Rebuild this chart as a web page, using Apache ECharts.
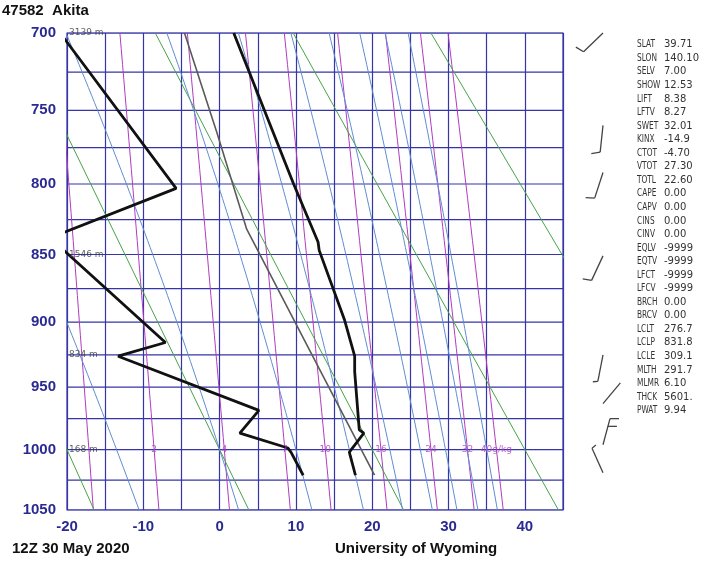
<!DOCTYPE html>
<html><head><meta charset="utf-8">
<script src="https://cdn.jsdelivr.net/npm/echarts@6/dist/echarts.min.js"></script>
<style>html,body{margin:0;padding:0;background:#fff}#c{width:709px;height:564px}</style>
</head><body><div id="c"></div>
<script>
// ---------- data ----------
const stationTitle = '47582  Akita';
const timeTitle = '12Z 30 May 2020';
const sourceTitle = 'University of Wyoming';

const pressureTicks = [700, 750, 800, 850, 900, 950, 1000, 1050];
const isobars = [700, 725, 750, 775, 800, 825, 850, 875, 900, 925, 950, 975, 1000, 1025, 1050];

// temperature profile (hPa, degC)
const tempP = [700, 800, 841, 847, 898, 926, 938, 984, 986.6, 1002, 1004.5, 1021];
const tempT = [1.85, 9.7, 12.9, 13.05, 16.35, 17.7, 17.7, 18.3, 18.9, 17.0, 17.1, 17.8];

// dewpoint profile (hPa, degC)
const dewP = [700, 803, 838, 915.5, 926, 968.4, 986.6, 998.7, 1002, 1021];
const dewT = [-20.9, -5.7, -22.2, -7.1, -13.3, 5.15, 2.65, 8.95, 9.35, 10.95];

// lifted parcel path (hPa, degC)
const parcelP = [1021, 831.8, 765, 700];
const parcelT = [20.3, 3.55, -0.35, -4.6];

// background reference lines
const dryTheta = [-20, 0, 20, 40, 60];                 // degC at 1000 hPa
const moistThetaW = [-13.5, 0, 10, 17, 22.3, 26.3, 29.6, 32.4, 35.0];
const mixRatios = [1, 2, 4, 7, 10, 16, 24, 32, 40];     // g/kg
const mixLabels = ['', '2', '4', '7', '10', '16', '24', '32', '40g/kg'];

// heights of standard levels
const heightP = [700, 850, 925, 1000];
const heightText = ['3139 m', '1546 m', '834 m', '168 m'];

// winds
const windP = [700, 760, 792, 851, 925, 963, 996, 1019];
const windDir = [226, 186, 198, 205, 191, 40, 15, 336];
const windSpd = [10, 10, 10, 10, 5, 2, 20, 5];

// station indices
const statNames = ['SLAT','SLON','SELV','SHOW','LIFT','LFTV','SWET','KINX','CTOT','VTOT','TOTL','CAPE','CAPV','CINS','CINV','EQLV','EQTV','LFCT','LFCV','BRCH','BRCV','LCLT','LCLP','LCLE','MLTH','MLMR','THCK','PWAT'];
const statValues = ['39.71','140.10','7.00','12.53','8.38','8.27','32.01','-14.9','-4.70','27.30','22.60','0.00','0.00','0.00','0.00','-9999','-9999','-9999','-9999','0.00','0.00','276.7','831.8','309.1','291.7','6.10','5601.','9.94'];

// ---------- helpers ----------
const KAPPA = 0.286;
const K = p => Math.pow(p, KAPPA);
const YMIN = K(700), YMAX = K(1050);

const GRID = '#3535a8', MOIST = '#5f8cd2', DRY = '#47a347', MIX = '#b03cbf', NAVY = '#2a2a92';

function tdFromMix(w, p) {
  const e = w * p / (622 + w);
  const l = Math.log(e / 6.112);
  return 243.5 * l / (17.67 - l);
}
function moistLine(twC) {
  const Rd = 287.04, cp = 1005.7, Lv = 2.501e6, eps = 0.622;
  const f = (T, p) => {
    const es = 6.112 * Math.exp(17.67 * (T - 273.15) / (T - 29.65));
    const rs = eps * es / (p - es);
    return (Rd * T + Lv * rs) / (p * (cp + Lv * Lv * rs * eps / (Rd * T * T)));
  };
  const run = (dp, pEnd) => {
    let T = twC + 273.15, p = 1000; const out = [];
    let n = 0;
    while ((dp < 0 && p > pEnd) || (dp > 0 && p < pEnd)) {
      const k1 = f(T, p), k2 = f(T + k1 * dp / 2, p + dp / 2);
      T += k2 * dp; p += dp; n++;
      if (n % 5 === 0) out.push([T - 273.15, K(p)]);
    }
    return out;
  };
  const up = run(-1, 700).reverse();
  const down = run(1, 1050);
  return up.concat([[twC, K(1000)]], down);
}

const series = [];
const lineBase = (color, width, z) => ({
  type: 'line', showSymbol: false, symbol: 'none', silent: true, animation: false,
  xAxisIndex: 0, yAxisIndex: 0, lineStyle: { color: color, width: width }, z: z
});

isobars.forEach(p => series.push(Object.assign(lineBase(GRID, 1.2, 1), { data: [[-20, K(p)], [45, K(p)]] })));

mixRatios.forEach(w => {
  const d = [];
  for (let p = 700; p <= 1050; p += 10) d.push([tdFromMix(w, p), K(p)]);
  series.push(Object.assign(lineBase(MIX, 1, 2), { data: d }));
});
dryTheta.forEach(th => {
  const tk = th + 273.15;
  series.push(Object.assign(lineBase(DRY, 1, 3), {
    data: [[tk * Math.pow(0.7, KAPPA) - 273.15, K(700)], [tk * Math.pow(1.05, KAPPA) - 273.15, K(1050)]]
  }));
});
moistThetaW.forEach(tw => series.push(Object.assign(lineBase(MOIST, 1, 3), { data: moistLine(tw) })));

series.push(Object.assign(lineBase('#5a5a5a', 1.6, 5), { data: parcelP.map((p, i) => [parcelT[i], K(p)]) }));
series.push(Object.assign(lineBase('#111', 2.8, 6), { data: tempP.map((p, i) => [tempT[i], K(p)]) }));
series.push(Object.assign(lineBase('#111', 2.8, 6), { data: dewP.map((p, i) => [dewT[i], K(p)]) }));

// mixing ratio labels at 1000 hPa
series.push({
  type: 'scatter', silent: true, animation: false, symbolSize: 0.1, itemStyle: { color: 'transparent' }, z: 7,
  data: mixRatios.map((w, i) => [tdFromMix(w, 1000), K(1000), mixLabels[i]]),
  label: { show: true, position: 'inside', formatter: p => p.data[2], color: MIX, fontSize: 9, fontFamily: 'DejaVu Sans' }
});
// height labels
series.push({
  type: 'scatter', silent: true, animation: false, symbolSize: 0.1, itemStyle: { color: 'transparent' }, z: 8,
  data: heightP.map((p, i) => [-20, K(p), heightText[i]]),
  label: { show: true, position: 'right', distance: 2, formatter: p => p.data[2], color: '#3a3a3a', fontSize: 9, fontFamily: 'DejaVu Sans' }
});
// wind barbs
series.push({
  type: 'custom', xAxisIndex: 1, yAxisIndex: 1, silent: true, animation: false, clip: false,
  data: windP.map((p, i) => [0.5, K(p), windDir[i], windSpd[i]]),
  renderItem: function (params, api) {
    const pt = api.coord([api.value(0), api.value(1)]);
    const dir = api.value(2) * Math.PI / 180, spd = api.value(3);
    const L = 27, ux = Math.sin(dir), uy = -Math.cos(dir);
    const tip = [pt[0] + ux * L, pt[1] + uy * L];
    const a = 75 * Math.PI / 180;
    const bx = Math.cos(a) * ux + Math.sin(a) * (-uy);
    const by = Math.cos(a) * uy + Math.sin(a) * ux;
    const st = { stroke: '#444', lineWidth: 1.3 };
    const ch = [{ type: 'line', shape: { x1: pt[0], y1: pt[1], x2: tip[0], y2: tip[1] }, style: st }];
    let n10 = Math.floor(spd / 10), n5 = Math.round((spd - n10 * 10) / 5);
    let k = 0;
    for (let i = 0; i < n10; i++, k++) {
      const b = [tip[0] - ux * 8 * k, tip[1] - uy * 8 * k];
      ch.push({ type: 'line', shape: { x1: b[0], y1: b[1], x2: b[0] + bx * 9, y2: b[1] + by * 9 }, style: st });
    }
    for (let i = 0; i < n5; i++, k++) {
      const b = [tip[0] - ux * 8 * k, tip[1] - uy * 8 * k];
      ch.push({ type: 'line', shape: { x1: b[0], y1: b[1], x2: b[0] + bx * 5, y2: b[1] + by * 5 }, style: st });
    }
    return { type: 'group', children: ch };
  }
});

const chart = echarts.init(document.getElementById('c'), null, { renderer: 'canvas' });
chart.setOption({
  animation: false,
  backgroundColor: '#fff',
  title: [
    { text: stationTitle, left: 2, top: 3, padding: 0, textStyle: { fontSize: 15, fontWeight: 'bold', color: '#111', fontFamily: 'Liberation Sans' } },
    { text: timeTitle, left: 12, top: 541, padding: 0, textStyle: { fontSize: 15, fontWeight: 'bold', color: '#111', fontFamily: 'Liberation Sans' } },
    { text: sourceTitle, left: 335, top: 541, padding: 0, textStyle: { fontSize: 15, fontWeight: 'bold', color: '#111', fontFamily: 'Liberation Sans' } }
  ],
  graphic: [
    { type: 'text', x: 637, y: 38, scaleX: 0.74, silent: true,
      style: { text: statNames.join('\n'), font: '10px "DejaVu Sans"', fill: '#333', lineHeight: 13.55 } },
    { type: 'text', x: 664, y: 38, silent: true,
      style: { text: statValues.join('\n'), font: '10px "DejaVu Sans"', fill: '#333', lineHeight: 13.55 } }
  ],
  grid: [
    { left: 67, top: 33, width: 496, height: 477, show: true, borderColor: GRID, borderWidth: 1.2, backgroundColor: 'transparent' },
    { left: 598, top: 33, width: 10, height: 477, show: false }
  ],
  xAxis: [
    { type: 'value', gridIndex: 0, min: -20, max: 45, interval: 5,
      axisLine: { show: false }, axisTick: { show: false },
      splitLine: { show: true, lineStyle: { color: GRID, width: 1.2 } },
      axisLabel: { margin: 9, color: NAVY, fontSize: 15, fontWeight: 'bold', fontFamily: 'Liberation Sans',
        formatter: v => (v % 10 === 0 && v <= 40) ? String(v) : '' } },
    { type: 'value', gridIndex: 1, min: 0, max: 1, show: false }
  ],
  yAxis: [
    { type: 'value', gridIndex: 0, inverse: true, min: YMIN, max: YMAX,
      axisLine: { show: false }, axisTick: { show: false }, splitLine: { show: false },
      axisLabel: { customValues: pressureTicks.map(K), margin: 11, color: NAVY, fontSize: 15, fontWeight: 'bold', fontFamily: 'Liberation Sans',
        formatter: v => String(Math.round(Math.pow(v, 1 / KAPPA))) } },
    { type: 'value', gridIndex: 1, inverse: true, min: YMIN, max: YMAX, show: false }
  ],
  series: series
});
</script>
</body></html>
